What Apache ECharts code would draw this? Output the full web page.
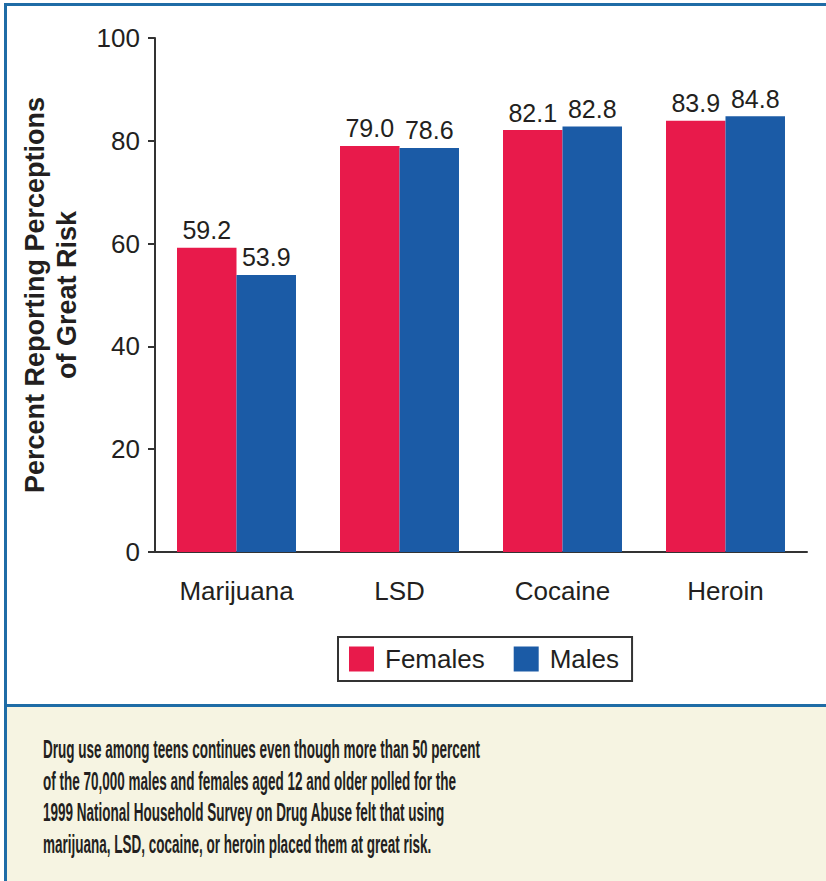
<!DOCTYPE html>
<html>
<head>
<meta charset="utf-8">
<script src="https://cdn.jsdelivr.net/npm/echarts@6/dist/echarts.min.js"></script>
<style>
  html, body { margin: 0; padding: 0; background: #fff; }
  #page { position: relative; width: 826px; height: 881px; overflow: hidden; background: #fff; }
  #frame {
    position: absolute; left: 4px; top: 3px; width: 840px; height: 900px;
    border-left: 3px solid #1f6ca6; border-top: 3px solid #1f6ca6;
  }
  #chart { position: absolute; left: 0; top: 0; width: 826px; height: 705px; }
  #caption {
    position: absolute; left: 7px; top: 704px; width: 830px; height: 190px;
    border-top: 3px solid #1f6ca6; background: #f6f4e2;
  }
  #caption .line {
    position: absolute; left: 36px; white-space: nowrap; transform-origin: 0 0;
    font-family: "Liberation Sans", Arial, sans-serif;
    font-weight: bold; font-size: 25px; line-height: 28px; color: #231f20;
  }
</style>
</head>
<body>
<div id="page">
  <div id="frame"></div>
  <div id="chart"></div>
  <div id="caption"></div>
</div>
<script>
const drugs = ["Marijuana", "LSD", "Cocaine", "Heroin"];
const females = [59.2, 79.0, 82.1, 83.9];
const males = [53.9, 78.6, 82.8, 84.8];
const seriesNames = ["Females", "Males"];
const captionLines = [
  "Drug use among teens continues even though more than 50 percent",
  "of the 70,000 males and females aged 12 and older polled for the",
  "1999 National Household Survey on Drug Abuse felt that using",
  "marijuana, LSD, cocaine, or heroin placed them at great risk.",
];

// caption: condensed look by squeezing each line horizontally
const caption = document.getElementById("caption");
const lineEls = captionLines.map((t, i) => {
  const el = document.createElement("div");
  el.className = "line";
  el.textContent = t;
  el.style.top = 28 + i * 31.7 + "px";
  caption.appendChild(el);
  return el;
});
const squeeze = 437 / lineEls[0].getBoundingClientRect().width;
lineEls.forEach((el) => {
  el.style.transform = "scaleX(" + squeeze + ")";
});

const chart = echarts.init(document.getElementById("chart"), null, { renderer: "svg" });
const labelStyle = {
  show: true,
  position: "top",
  distance: 5,
  color: "#231f20",
  fontSize: 25,
  fontFamily: "Liberation Sans, Arial, sans-serif",
  formatter: (p) => p.value.toFixed(1),
};
chart.setOption({
  animation: false,
  textStyle: { fontFamily: "Liberation Sans, Arial, sans-serif" },
  grid: { left: 155, right: 19, top: 38, bottom: 153, outerBoundsMode: "none" },
  legend: {
    data: seriesNames,
    left: 338,
    top: 637,
    orient: "horizontal",
    borderColor: "#333",
    borderWidth: 2,
    padding: [9, 13, 9, 11],
    itemWidth: 25,
    itemHeight: 25,
    itemGap: 29,
    icon: "rect",
    textStyle: { fontSize: 26, color: "#231f20", padding: [0, 0, 0, 6] },
  },
  xAxis: {
    type: "category",
    data: drugs,
    axisLine: { lineStyle: { color: "#333", width: 2 } },
    axisTick: { show: false },
    axisLabel: { fontSize: 26, color: "#231f20", margin: 26 },
  },
  yAxis: {
    type: "value",
    min: 0,
    max: 100,
    interval: 20,
    name: "Percent Reporting Perceptions\nof Great Risk",
    nameLocation: "middle",
    nameGap: 72,
    nameTextStyle: { fontSize: 27, fontWeight: "bold", color: "#231f20", lineHeight: 32 },
    axisLine: { show: true, lineStyle: { color: "#333", width: 2 } },
    axisTick: { show: true, length: 7, lineStyle: { color: "#333", width: 2 } },
    axisLabel: { fontSize: 26, color: "#231f20", margin: 15 },
    splitLine: { show: false },
  },
  series: [
    {
      name: seriesNames[0],
      type: "bar",
      data: females,
      barGap: "0%",
      barCategoryGap: "27%",
      itemStyle: { color: "#e81a4b" },
      label: labelStyle,
    },
    {
      name: seriesNames[1],
      type: "bar",
      data: males,
      itemStyle: { color: "#1b5ba6" },
      label: labelStyle,
    },
  ],
});
</script>
</body>
</html>
